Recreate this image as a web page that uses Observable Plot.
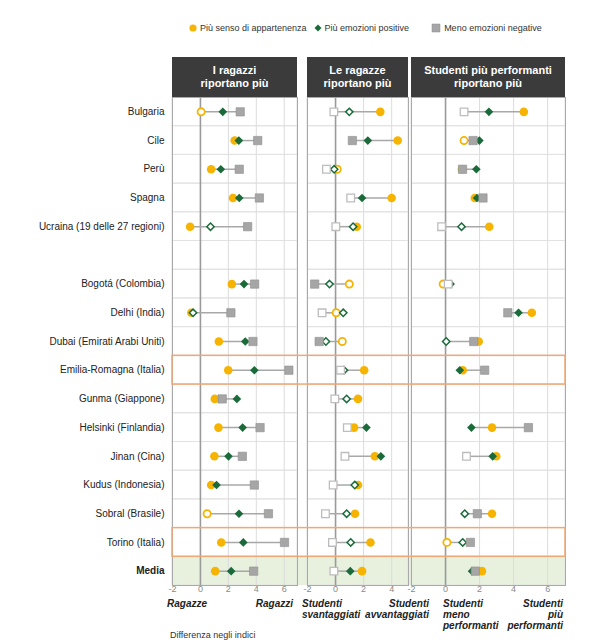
<!DOCTYPE html>
<html><head><meta charset="utf-8">
<script src="https://cdn.jsdelivr.net/npm/d3@7"></script>
<script src="https://cdn.jsdelivr.net/npm/@observablehq/plot@0.6"></script>
<style>
body{margin:0;background:#fff;font-family:"Liberation Sans",Arial,sans-serif;color:#222;}
#wrap{position:relative;width:606px;height:644px;}
.legend{position:absolute;top:23px;left:189px;display:flex;align-items:center;font-size:9px;color:#333;white-space:nowrap}
.legend .it{display:flex;align-items:center;margin-right:7px}
.legend svg{margin-right:3px}
.hdr{position:absolute;top:57px;height:40px;background:#3b3b3b;color:#fff;font-weight:bold;font-size:11px;line-height:13px;display:flex;align-items:center;justify-content:center;text-align:center;z-index:3}
.pl{position:absolute;top:97px;z-index:1}
.lab{position:absolute;top:598px;font-weight:bold;font-style:italic;font-size:10px;line-height:11px;color:#222}
.note{position:absolute;left:170px;top:630px;font-size:9px;color:#333}
</style></head>
<body><div id="wrap"></div>
<script>
// ---------- data ----------
const rows = ["Bulgaria","Cile","Perù","Spagna","Ucraina (19 delle 27 regioni)"," ",
  "Bogotá (Colombia)","Delhi (India)","Dubai (Emirati Arabi Uniti)","Emilia-Romagna (Italia)",
  "Gunma (Giappone)","Helsinki (Finlandia)","Jinan (Cina)","Kudus (Indonesia)","Sobral (Brasile)",
  "Torino (Italia)","Media"];
const countries = rows.filter(r => r.trim() !== "");
const highlighted = ["Emilia-Romagna (Italia)","Torino (Italia)"];
const avgRow = "Media";

const seriesNames = ["Più senso di appartenenza","Più emozioni positive","Meno emozioni negative"];
const panelTitles = ["I ragazzi\nriportano più","Le ragazze\nriportano più","Studenti più performanti\nriportano più"];
const endLabels = [["Ragazze","Ragazzi"],["Studenti\nsvantaggiati","Studenti\navvantaggiati"],["Studenti\nmeno\nperformanti","Studenti\npiù\nperformanti"]];
const tickValues = [[-2,0,2,4,6],[-2,0,2,4],[-2,0,2,4,6]];

// Panel 1: gender
const belong1 = [0.05,2.45,0.77,2.33,-0.74,2.25,-0.65,1.32,1.99,1.03,1.29,1.0,0.77,0.48,1.49,1.06];
const belong1Sig = [0,1,1,1,1,1,1,1,1,1,1,1,1,0,1,1];
const pos1 = [1.6,2.75,1.46,2.78,0.72,3.12,-0.53,3.21,3.86,2.61,3.02,2.01,1.15,2.76,3.07,2.2];
const pos1Sig = [1,1,1,1,0,1,0,1,1,1,1,1,1,1,1,1];
const neg1 = [2.85,4.1,2.78,4.22,3.38,3.88,2.18,3.76,6.33,1.56,4.27,3.0,3.86,4.87,6.02,3.81];
const neg1Sig = [1,1,1,1,1,1,1,1,1,1,1,1,1,1,1,1];

// Panel 2: socio-economic status
const belong2 = [3.19,4.43,0.12,4.0,1.51,0.98,0.05,0.48,2.04,1.6,1.32,2.8,1.6,1.39,2.49,1.89];
const belong2Sig = [1,1,0,1,1,0,0,0,1,1,1,1,1,1,1,1];
const pos2 = [0.98,2.3,-0.1,1.89,1.25,-0.43,0.55,-0.69,0.6,0.79,2.2,3.23,1.37,0.79,1.08,1.05];
const pos2Sig = [0,1,0,1,0,0,0,0,0,0,1,1,0,0,0,1];
const neg2 = [-0.12,1.2,-0.65,1.08,0.02,-1.49,-0.96,-1.17,0.36,-0.05,0.84,0.67,-0.17,-0.72,-0.22,-0.12];
const neg2Sig = [0,1,0,0,0,1,0,1,0,0,0,0,0,0,0,0];

// Panel 3: performance
const belong3 = [4.6,1.09,0.97,1.72,2.57,-0.14,5.07,1.95,1.01,null,2.73,2.98,null,2.73,0.08,2.14];
const belong3Sig = [1,0,1,1,1,0,1,1,1,null,1,1,null,1,0,1];
const pos3 = [2.55,1.99,1.81,1.85,0.94,0.3,4.29,0.04,0.84,null,1.52,2.77,null,1.13,1.01,1.56];
const pos3Sig = [1,1,1,1,0,1,1,0,1,null,1,1,null,0,0,1];
const neg3 = [1.09,1.62,1.0,2.2,-0.23,0.16,3.66,1.66,2.3,null,4.87,1.23,null,1.87,1.46,1.75];
const neg3Sig = [0,1,1,1,0,0,1,1,1,null,1,0,null,1,1,1];

const colors = {belong:"#f6b400", pos:"#1b6b3a", neg:"#a6a6a6"};

// ---------- build ----------
const wrap = document.getElementById("wrap");
const font = "'Liberation Sans', Arial, sans-serif";

// legend
const legend = document.createElement("div"); legend.className = "legend";
const legSym = [
  `<svg width="8" height="8"><circle cx="4" cy="4" r="3.6" fill="${colors.belong}"/></svg>`,
  `<svg width="8" height="8"><path d="M4,0.5L7.5,4L4,7.5L0.5,4Z" fill="${colors.pos}"/></svg>`,
  `<svg width="10" height="10"><rect x="1" y="1" width="8" height="8" fill="${colors.neg}" stroke="#8f8f8f" stroke-width="0.5"/></svg>`
];
seriesNames.forEach((s,i)=>{
  const it = document.createElement("div"); it.className="it";
  if (i===1) it.style.marginRight = "22px";
  it.innerHTML = legSym[i] + `<span>${s}</span>`;
  legend.appendChild(it);
});
wrap.appendChild(legend);

const panels = [
  {b:belong1,bs:belong1Sig,p:pos1,ps:pos1Sig,n:neg1,ns:neg1Sig, left:0, width:297, ml:172, mr:0, domain:[-2,6.95]},
  {b:belong2,bs:belong2Sig,p:pos2,ps:pos2Sig,n:neg2,ns:neg2Sig, left:297, width:111, ml:10, mr:0, domain:[-2,5.2]},
  {b:belong3,bs:belong3Sig,p:pos3,ps:pos3Sig,n:neg3,ns:neg3Sig, left:408, width:158, ml:3, mr:1, domain:[-2,7.05]}
];

const plots = [];
panels.forEach((P, k) => {
  const long = [], spans = [];
  countries.forEach((c,i) => {
    const vals = [];
    [["belong",P.b,P.bs],["pos",P.p,P.ps],["neg",P.n,P.ns]].forEach(([s,v,sg]) => {
      if (v[i] != null) { long.push({row:c, series:s, value:v[i], sig:!!sg[i]}); vals.push(v[i]); }
    });
    if (vals.length) spans.push({row:c, lo:d3.min(vals), hi:d3.max(vals)});
  });
  const sel = (s, sig) => long.filter(d => d.series === s && d.sig === sig);
  const marks = [
    Plot.cell(rows, {y: d => d, fill: "none", stroke: "#e2e2e2", strokeWidth: 1}),
    Plot.gridX(tickValues[k], {stroke: "#dcdcdc", strokeOpacity: 1}),
    Plot.ruleX([0], {stroke: "#9a9a9a", strokeWidth: 1.6}),
    Plot.frame({stroke: "#a9a9a9"}),
    Plot.ruleY(spans, {y: "row", x1: "lo", x2: "hi", stroke: "#a8a8a8", strokeWidth: 1.5}),
    Plot.dot(sel("belong", true), {x: "value", y: "row", r: 4.3, fill: colors.belong, stroke: "none"}),
    Plot.dot(sel("belong", false), {x: "value", y: "row", r: 3.6, fill: "white", stroke: colors.belong, strokeWidth: 1.8}),
    Plot.dot(sel("pos", true), {x: "value", y: "row", symbol: "diamond2", r: 3.9, fill: colors.pos, stroke: "none"}),
    Plot.dot(sel("pos", false), {x: "value", y: "row", symbol: "diamond2", r: 3.3, fill: "white", stroke: colors.pos, strokeWidth: 1.5}),
    Plot.dot(sel("neg", true), {x: "value", y: "row", symbol: "square", r: 4.7, fill: colors.neg, stroke: "#8f8f8f", strokeWidth: 0.6}),
    Plot.dot(sel("neg", false), {x: "value", y: "row", symbol: "square", r: 4.3, fill: "white", stroke: "#bdbdbd", strokeWidth: 1.3}),
    Plot.axisX(tickValues[k], {tickSize: 0, tickPadding: 0, fontSize: 9, fill: "#8a8a8a", tickFormat: d => String(d), label: null})
  ];
  if (k === 0) {
    marks.push(Plot.text(rows.filter(r => r !== avgRow), {y: d => d, frameAnchor: "left", textAnchor: "end", dx: -8, fontSize: 10, fill: "#222"}));
    marks.push(Plot.text([avgRow], {y: d => d, frameAnchor: "left", textAnchor: "end", dx: -8, fontSize: 10, fontWeight: "bold", fill: "#222"}));
  }
  const plot = Plot.plot({
    width: P.width, height: 502,
    marginLeft: P.ml, marginRight: P.mr, marginTop: 0, marginBottom: 14,
    style: {fontFamily: font, background: "transparent", overflow: "visible"},
    x: {domain: P.domain, axis: null},
    y: {domain: rows, padding: 0, round: false, axis: null},
    marks
  });
  const holder = document.createElement("div"); holder.className = "pl";
  holder.style.left = P.left + "px";
  holder.appendChild(plot); wrap.appendChild(holder);
  plots.push({plot, P});

  // header
  const xs = plot.scale("x").range;
  const h = document.createElement("div"); h.className = "hdr";
  h.style.left = (P.left + xs[0]) + "px"; h.style.width = (xs[1] - xs[0]) + "px";
  h.innerHTML = panelTitles[k].replace("\n","<br>");
  wrap.appendChild(h);
});

// end labels under panels
const labPos = [[167,293],[302,429],[443,563]];
endLabels.forEach((pair, k) => {
  const a = document.createElement("div"); a.className = "lab";
  a.style.left = labPos[k][0] + "px"; a.style.textAlign = "left";
  a.innerHTML = pair[0].replace(/\n/g,"<br>");
  const b = document.createElement("div"); b.className = "lab";
  b.style.right = (606 - labPos[k][1]) + "px"; b.style.textAlign = "right";
  b.innerHTML = pair[1].replace(/\n/g,"<br>");
  wrap.appendChild(a); wrap.appendChild(b);
});
const note = document.createElement("div"); note.className = "note"; note.textContent = "Differenza negli indici";
wrap.appendChild(note);

// overlays spanning all panels, derived from the scales
const ys = plots[0].plot.scale("y");
const bw = (ys.range[1] - ys.range[0]) / rows.length;
const left = plots[0].P.left + plots[0].plot.scale("x").range[0];
const right = plots[2].P.left + plots[2].plot.scale("x").range[1];
const top0 = 97 + ys.range[0];
const ns = "http://www.w3.org/2000/svg";
function overlay(z) {
  const s = document.createElementNS(ns, "svg");
  s.setAttribute("width", 606); s.setAttribute("height", 644);
  s.style.position = "absolute"; s.style.left = "0"; s.style.top = "0"; s.style.zIndex = z; s.style.pointerEvents = "none";
  wrap.appendChild(s); return s;
}
const under = overlay(0), over = overlay(2);
{
  const i = rows.indexOf(avgRow);
  const r = document.createElementNS(ns, "rect");
  r.setAttribute("x", left); r.setAttribute("y", top0 + i*bw); r.setAttribute("width", right-left); r.setAttribute("height", bw);
  r.setAttribute("fill", "#e7f1de"); under.appendChild(r);
}
highlighted.forEach(h => {
  const i = rows.indexOf(h);
  const r = document.createElementNS(ns, "rect");
  r.setAttribute("x", left); r.setAttribute("y", top0 + i*bw); r.setAttribute("width", right-left); r.setAttribute("height", bw);
  r.setAttribute("fill", "none"); r.setAttribute("stroke", "#f0a877"); r.setAttribute("stroke-width", 1.5);
  over.appendChild(r);
});
</script></body></html>
